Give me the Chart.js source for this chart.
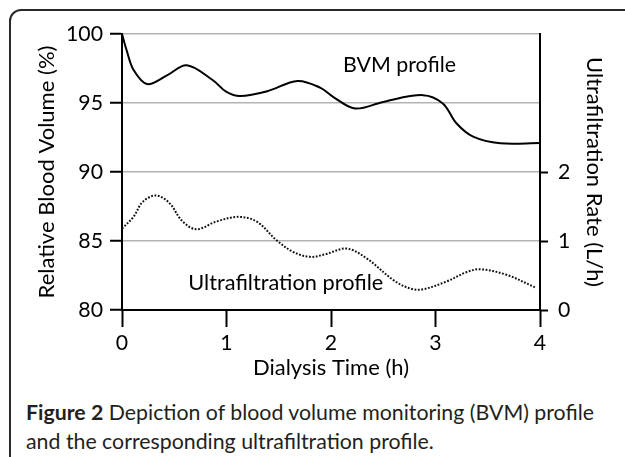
<!DOCTYPE html>
<html>
<head>
<meta charset="utf-8">
<script src="https://cdn.jsdelivr.net/npm/chart.js@4.4.1/dist/chart.umd.min.js"></script>
<style>
  html, body { margin: 0; padding: 0; background: #fff; width: 625px; height: 457px; overflow: hidden; }
  #frame { position: absolute; left: 9px; top: 9px; width: 700px; height: 520px; border: 2px solid #2a2a2a; border-radius: 12px; box-sizing: border-box; }
  #wrap { position: absolute; left: 0; top: 0; }
  #caption { position: absolute; left: 26px; color: #231f20; white-space: nowrap; }
  #caption b { font-weight: 700; }
</style>
</head>
<body>
<div id="frame"></div>
<div id="wrap"><canvas id="c" width="625" height="395"></canvas></div>
<div id="caption"><b>Figure 2</b> Depiction of blood volume monitoring (BVM) profile<br>and the corresponding ultrafiltration profile.</div>
<script>
// ---- data ----
const bvmTime = [0, 0.045, 0.11, 0.24, 0.43, 0.62, 0.87, 1.0, 1.13, 1.39, 1.68, 1.9, 2.02, 2.23, 2.5, 2.88, 3.07, 3.2, 3.36, 3.62, 4.0];
const bvmValues = [100, 98.8, 97.4, 96.37, 97.0, 97.74, 96.65, 95.8, 95.5, 95.85, 96.6, 96.1, 95.45, 94.6, 95.08, 95.57, 94.97, 93.53, 92.56, 92.08, 92.1];
const ufTime = [0, 0.11, 0.2, 0.33, 0.46, 0.57, 0.71, 0.9, 1.11, 1.29, 1.48, 1.64, 1.8, 1.95, 2.15, 2.34, 2.6, 2.76, 2.88, 3.1, 3.3, 3.43, 3.68, 3.95];
const ufValues = [1.18, 1.35, 1.57, 1.66, 1.54, 1.30, 1.17, 1.28, 1.35, 1.28, 1.01, 0.84, 0.77, 0.81, 0.89, 0.75, 0.43, 0.31, 0.30, 0.41, 0.55, 0.59, 0.51, 0.33];
const xTicks = [0, 1, 2, 3, 4];
const leftTicks = [80, 85, 90, 95, 100];
const rightTicks = [0, 1, 2];
const xTitle = 'Dialysis Time (h)';
const leftTitle = 'Relative Blood Volume (%)';
const rightTitle = 'Ultrafiltration Rate (L/h)';
const bvmLabel = 'BVM profile';
const ufLabel = 'Ultrafiltration profile';

// ---- font fitting ----
const FAM = 'Lato, "Open Sans", sans-serif';
const CAPFAM = 'Lato, "Open Sans", sans-serif';
const mctx = document.createElement('canvas').getContext('2d');
function fit(text, family, weight, target) {
  mctx.font = weight + ' 100px ' + family;
  return 100 * target / mctx.measureText(text).width;
}
const tickSize = fit('100', FAM, 'normal', 37);
const leftTitleSize = fit(leftTitle, FAM, 'normal', 253);
const rightTitleSize = fit(rightTitle, FAM, 'normal', 230);
const xTitleSize = fit(xTitle, FAM, 'normal', 156);
const bvmSize = fit(bvmLabel, FAM, 'normal', 113);
const ufSize = fit(ufLabel, FAM, 'normal', 195);

// caption fit
(function(){
  mctx.font = '700 100px ' + CAPFAM;
  const wb = mctx.measureText('Figure 2').width;
  mctx.font = '400 100px ' + CAPFAM;
  const wr = mctx.measureText(' Depiction of blood volume monitoring (BVM) profile').width;
  const s = 100 * 569 / (wb + wr);
  const cap = document.getElementById('caption');
  cap.style.fontFamily = CAPFAM;
  cap.style.fontSize = s.toFixed(2) + 'px';
  const L = 29;
  cap.style.lineHeight = L + 'px';
  const asc = 0.987 * s, desc = 0.213 * s;
  const base = (L - (asc + desc)) / 2 + asc;
  cap.style.top = (421 - base).toFixed(1) + 'px';
})();

const textColor = '#000';
const labelPlugin = {
  id: 'labels',
  afterDatasetsDraw(chart) {
    const {ctx, scales} = chart;
    ctx.save();
    ctx.fillStyle = textColor;
    ctx.textBaseline = 'alphabetic';
    ctx.textAlign = 'left';
    ctx.font = bvmSize.toFixed(2) + 'px ' + FAM;
    ctx.fillText(bvmLabel, scales.x.getPixelForValue(2.115), scales.y.getPixelForValue(97.25));
    ctx.font = ufSize.toFixed(2) + 'px ' + FAM;
    ctx.fillText(ufLabel, scales.x.getPixelForValue(0.635), scales.y.getPixelForValue(81.45));
    ctx.restore();
  }
};

const H = 395;
new Chart(document.getElementById('c'), {
  type: 'line',
  data: {
    datasets: [
      {
        label: 'BVM',
        data: bvmTime.map((t, i) => ({x: t, y: bvmValues[i]})),
        yAxisID: 'y',
        borderColor: '#000',
        borderWidth: 2,
        pointRadius: 0,
        tension: 0.35,
        fill: false
      },
      {
        label: 'UF',
        data: ufTime.map((t, i) => ({x: t, y: ufValues[i]})),
        yAxisID: 'y2',
        borderColor: '#111',
        borderWidth: 2,
        borderDash: [1.8, 1.6],
        pointRadius: 0,
        tension: 0.35,
        fill: false
      }
    ]
  },
  options: {
    responsive: false,
    animation: false,
    events: [],
    layout: { padding: { top: 34, left: 0, right: 0, bottom: 0 } },
    plugins: { legend: { display: false }, tooltip: { enabled: false } },
    scales: {
      x: {
        type: 'linear', min: 0, max: 4,
        afterBuildTicks: s => { s.ticks = xTicks.map(v => ({value: v})); },
        afterFit: s => { s.height = H - 310; },
        grid: { drawOnChartArea: false, tickLength: 17, tickColor: '#000', tickWidth: 2 },
        border: { color: '#000', width: 2 },
        ticks: { padding: 3, color: textColor, maxRotation: 0, font: { family: FAM, size: tickSize } },
        title: { display: true, text: xTitle, color: textColor, font: { family: FAM, size: xTitleSize }, padding: { top: 0, bottom: 14 } }
      },
      y: {
        position: 'left', min: 80, max: 100,
        afterBuildTicks: s => { s.ticks = leftTicks.map(v => ({value: v})); },
        afterFit: s => { s.width = 122; },
        grid: { color: '#b3b3b3', lineWidth: 1.5, tickLength: 12, tickColor: '#000', tickWidth: 2 },
        border: { color: '#000', width: 2 },
        ticks: { padding: 7, color: textColor, font: { family: FAM, size: tickSize } },
        title: { display: true, text: leftTitle, color: textColor, font: { family: FAM, size: leftTitleSize }, padding: { top: 34, bottom: 0 } }
      },
      y2: {
        position: 'right', min: 0, max: 4,
        afterBuildTicks: s => { s.ticks = rightTicks.map(v => ({value: v})); },
        afterFit: s => { s.width = 85; },
        grid: { drawOnChartArea: false, tickLength: 8, tickColor: '#000', tickWidth: 2 },
        border: { color: '#000', width: 2 },
        ticks: { padding: 10, color: textColor, font: { family: FAM, size: tickSize } },
        title: { display: true, text: rightTitle, color: textColor, font: { family: FAM, size: rightTitleSize }, padding: { top: 18, bottom: 0 } }
      }
    }
  },
  plugins: [labelPlugin]
});
</script>
</body>
</html>
